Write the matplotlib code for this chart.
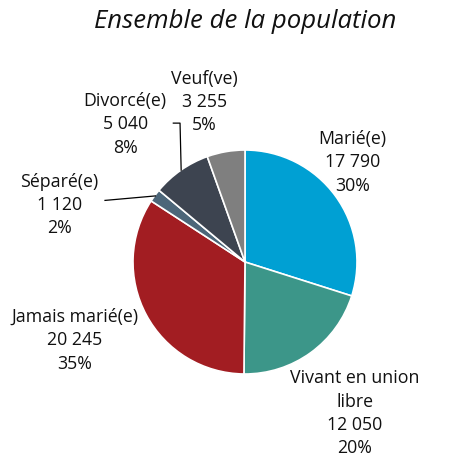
import matplotlib.pyplot as plt

# Données (état matrimonial, ensemble de la population)
categories = ['Marié(e)', 'Vivant en union\nlibre', 'Jamais marié(e)',
              'Séparé(e)', 'Divorcé(e)', 'Veuf(ve)']
valeurs = [17790, 12050, 20245, 1120, 5040, 3255]
valeurs_txt = ['17 790', '12 050', '20 245', '1 120', '5 040', '3 255']
pourcentages = ['30%', '20%', '35%', '2%', '8%', '5%']
couleurs = ['#00a0d3', '#3c9689', '#a21d22', '#4c6679', '#3d4450', '#7f7f7f']

# positions des étiquettes (coordonnées du camembert, rayon = 1)
pos_etiquettes = [(0.96, 0.89), (0.98, -1.35), (-1.52, -0.70),
                  (-1.66, 0.51), (-1.07, 1.23), (-0.36, 1.43)]

plt.rcParams['font.family'] = ['Open Sans', 'DejaVu Sans']

fig = plt.figure(figsize=(4.49, 4.58), dpi=100)
ax = fig.add_axes([(245 - 112) / 449, (458 - 374) / 458, 224 / 449, 224 / 458])

ax.pie(valeurs, colors=couleurs, startangle=90, counterclock=False,
       radius=1, wedgeprops={'edgecolor': 'white', 'linewidth': 1.2})
ax.set_xlim(-1, 1)
ax.set_ylim(-1, 1)
ax.set_aspect('equal')
ax.axis('off')

for cat, v, p, (x, y) in zip(categories, valeurs_txt, pourcentages, pos_etiquettes):
    ax.text(x, y, f'{cat}\n{v}\n{p}', ha='center', va='center', fontsize=12.8,
            linespacing=1.38, color='#111111', clip_on=False)

# traits de rappel
ax.plot([-1.25, -0.80], [0.55, 0.59], color='black', lw=0.9, clip_on=False)
ax.plot([-0.64, -0.58, -0.57], [1.24, 1.24, 0.82], color='black', lw=0.9, clip_on=False)

fig.text(0.545, 0.953, 'Ensemble de la population', ha='center', va='center',
         fontsize=18.5, style='italic', color='#111111')

plt.savefig('out.png', dpi=100)
